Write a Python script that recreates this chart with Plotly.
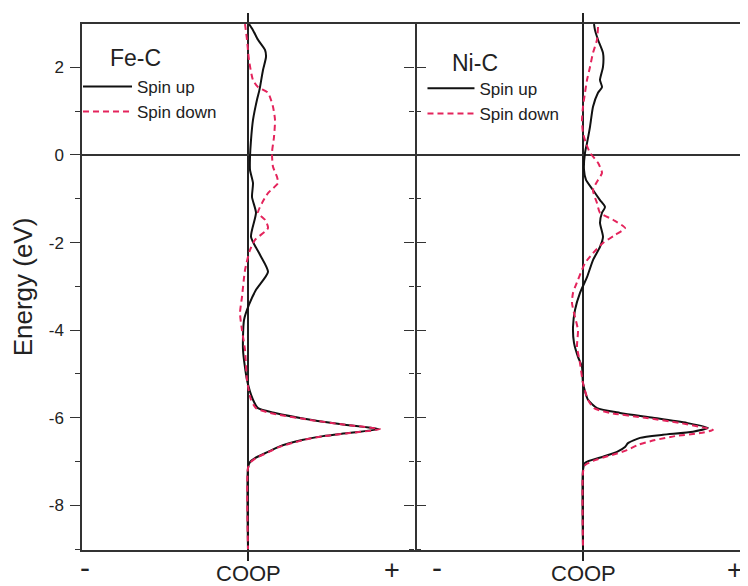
import plotly.graph_objects as go

# ---------------- data (energy in eV, COOP in arbitrary units) ----------------
fe_up_E = [2.99, 2.85, 2.63, 2.40, 2.24, 1.94, 1.55, 1.44, 1.26, 0.80, 0.34, -0.05, -0.34, -0.64,
           -0.96, -1.32, -1.87, -2.28, -2.67, -3.08, -3.42, -3.77, -4.45, -5.14, -5.59, -5.78,
           -5.89, -6.05, -6.16, -6.26, -6.35, -6.42, -6.51, -6.67, -6.78, -6.92, -7.01, -7.15, -9.0]
fe_up_C = [0.01, 0.05, 0.10, 0.17, 0.18, 0.15, 0.12, 0.11, 0.09, 0.05, 0.03, 0.02, 0.02, 0.05,
           0.04, 0.08, 0.03, 0.12, 0.20, 0.08, 0.01, -0.04, -0.05, -0.01, 0.05, 0.10,
           0.27, 0.64, 0.97, 1.31, 1.00, 0.75, 0.54, 0.30, 0.20, 0.07, 0.02, 0.0, 0.0]

fe_dn_E = [2.99, 2.63, 2.17, 1.71, 1.55, 1.42, 1.10, 0.80, 0.41, 0.05, -0.27, -0.50, -0.64, -0.87,
           -1.10, -1.32, -1.48, -1.67, -1.94, -2.17, -2.63, -3.24, -3.61, -4.00, -4.45, -5.14,
           -5.59, -5.78, -5.89, -6.05, -6.16, -6.26, -6.35, -6.42, -6.51, -6.67, -6.78, -6.92,
           -7.01, -7.15, -9.0]
fe_dn_C = [-0.03, -0.01, 0.01, 0.05, 0.10, 0.20, 0.25, 0.27, 0.26, 0.24, 0.25, 0.29, 0.30, 0.20,
           0.14, 0.10, 0.17, 0.20, 0.07, 0.02, -0.03, -0.06, -0.08, -0.06, -0.03, -0.01,
           0.03, 0.08, 0.22, 0.62, 0.97, 1.32, 1.02, 0.76, 0.55, 0.31, 0.21, 0.08,
           0.03, 0.0, 0.0]

ni_up_E = [2.99, 2.85, 2.63, 2.33, 2.01, 1.71, 1.55, 1.42, 1.10, 0.64, 0.27, 0.05, -0.34, -0.57,
           -0.80, -1.03, -1.19, -1.32, -1.55, -1.87, -2.10, -2.40, -2.79, -3.15, -3.54, -3.93,
           -4.29, -4.61, -4.84, -5.21, -5.59, -5.78, -5.89, -6.00, -6.12, -6.23, -6.32, -6.39,
           -6.46, -6.58, -6.67, -6.78, -6.89, -7.03, -7.19, -9.0]
ni_up_C = [0.11, 0.12, 0.15, 0.20, 0.20, 0.17, 0.19, 0.15, 0.10, 0.07, 0.04, 0.02, 0.01, 0.03,
           0.10, 0.17, 0.22, 0.19, 0.17, 0.20, 0.17, 0.10, 0.04, -0.03, -0.08, -0.10,
           -0.09, -0.05, -0.01, 0.0, 0.05, 0.14, 0.37, 0.70, 1.04, 1.25, 1.10, 0.80,
           0.57, 0.45, 0.42, 0.34, 0.20, 0.02, 0.0, 0.0]

ni_dn_E = [2.92, 2.63, 2.33, 2.01, 1.71, 1.42, 1.10, 0.80, 0.50, 0.27, 0.05, -0.18, -0.41, -0.57,
           -0.80, -1.10, -1.32, -1.48, -1.67, -1.83, -2.01, -2.24, -2.47, -2.85, -3.15, -3.38,
           -3.70, -4.00, -4.38, -4.75, -5.21, -5.59, -5.78, -5.89, -6.00, -6.12, -6.23, -6.28,
           -6.35, -6.42, -6.51, -6.62, -6.74, -6.85, -6.96, -7.08, -7.24, -9.0]
ni_dn_C = [0.15, 0.14, 0.10, 0.07, 0.04, 0.02, 0.0, -0.01, 0.0, 0.03, 0.07, 0.15, 0.19, 0.15,
           0.10, 0.14, 0.17, 0.30, 0.42, 0.32, 0.20, 0.10, 0.02, -0.05, -0.10, -0.11,
           -0.08, -0.05, -0.06, -0.03, 0.0, 0.05, 0.11, 0.27, 0.62, 0.97, 1.22, 1.30,
           1.17, 0.92, 0.72, 0.55, 0.44, 0.29, 0.13, 0.02, 0.0, 0.0]

panel_titles = ["Fe-C", "Ni-C"]
series_names = ["Spin up", "Spin down"]
y_tickvals = [-8, -6, -4, -2, 0, 2]
y_ticktext = ["-8", "-6", "-4", "-2", "0", "2"]
x_label = "COOP"
x_sign_text = ["-", "+"]

BLACK = "#111111"
RED = "#e4245c"
AX = "#333333"
FONT = "Arial, Liberation Sans, sans-serif"

fig = go.Figure()

def add(E, C, name, color, dash, xa, ya, legend):
    fig.add_trace(go.Scatter(
        x=C, y=E, mode="lines", name=name, xaxis=xa, yaxis=ya, legend=legend,
        line=dict(color=color, width=2, dash=dash, shape="spline", smoothing=0.6),
    ))

add(fe_up_E, fe_up_C, series_names[0], BLACK, "solid", "x", "y", "legend")
add(fe_dn_E, fe_dn_C, series_names[1], RED, "6px,4px", "x", "y", "legend")
add(ni_up_E, ni_up_C, series_names[0], BLACK, "solid", "x2", "y2", "legend2")
add(ni_dn_E, ni_dn_C, series_names[1], RED, "6px,4px", "x2", "y2", "legend2")

xcommon = dict(
    tickmode="array", tickvals=[0], ticktext=[""], ticks="outside", ticklen=9,
    tickcolor="#222", tickwidth=1.5, showline=True, linecolor=AX, linewidth=1.5, mirror="ticks",
    showgrid=False, zeroline=True, zerolinecolor="#222", zerolinewidth=1.5, automargin=False,
)
ycommon = dict(
    range=[-9.02, 2.99], tickmode="array", tickvals=y_tickvals, ticktext=y_ticktext,
    ticks="outside", ticklen=10, tickcolor=AX, tickwidth=1.3,
    showgrid=False, zeroline=True, zerolinecolor=AX, zerolinewidth=1.5, automargin=False,
    minor=dict(dtick=1, tick0=1, ticks="outside", ticklen=5, tickcolor=AX, tickwidth=1.3),
)

# page body adds an 8 px offset; the figure is sized so the plot lands where the reference has it
fig.update_layout(
    width=740, height=578,
    margin=dict(l=74, r=1, t=16, b=36),
    plot_bgcolor="white", paper_bgcolor="white",
    font=dict(family=FONT, color="#222"),
    showlegend=True,
    xaxis=dict(domain=[0, 0.5], range=[-1.66, 1.665], **xcommon),
    xaxis2=dict(domain=[0.5, 1], range=[-1.685, 1.64], anchor="y2", **xcommon),
    yaxis=dict(showline=True, linecolor=AX, linewidth=1.5, mirror="ticks",
               showticklabels=True, ticklabelstandoff=3,
               tickfont=dict(size=17, color="#222", family=FONT),
               title=dict(text="Energy (eV)", font=dict(size=26, family=FONT, color="#222"),
                          standoff=18),
               **ycommon),
    yaxis2=dict(anchor="x2", matches="y", showline=False, showticklabels=False, **ycommon),
    legend=dict(x=-0.006, y=0.9145, xanchor="left", yanchor="top", itemwidth=49,
                bgcolor="rgba(0,0,0,0)", font=dict(size=17, family=FONT, color="#222"),
                tracegroupgap=0),
    legend2=dict(x=0.512, y=0.911, xanchor="left", yanchor="top", itemwidth=47,
                 bgcolor="rgba(0,0,0,0)", font=dict(size=17, family=FONT, color="#222"),
                 tracegroupgap=0),
    shapes=[dict(type="line", xref="paper", yref="paper", x0=1, x1=1, y0=0, y1=1,
                 line=dict(color="#d0d0d0", width=1))],
)

ann_font = dict(size=23, family=FONT, color="#222")
fig.add_annotation(text=panel_titles[0], xref="paper", yref="paper", x=0.0385, y=0.935,
                   xanchor="left", yanchor="middle", showarrow=False, font=ann_font)
fig.add_annotation(text=panel_titles[1], xref="paper", yref="paper", x=0.553, y=0.926,
                   xanchor="left", yanchor="middle", showarrow=False, font=ann_font)

lab_font = dict(size=22, family=FONT, color="#222")
minus_font = dict(size=30, family=FONT, color="#222")
plus_font = dict(size=27, family=FONT, color="#222")
for xr, xm, xp in [("x", -1.63, 1.44), ("x2", -1.46, 1.52)]:
    fig.add_annotation(text=x_label, xref=xr, yref="paper", x=0, y=-0.045, xanchor="center",
                       yanchor="middle", showarrow=False, font=lab_font)
    fig.add_annotation(text=x_sign_text[0], xref=xr, yref="paper", x=xm, y=-0.034,
                       xanchor="center", yanchor="middle", showarrow=False, font=minus_font)
    fig.add_annotation(text=x_sign_text[1], xref=xr, yref="paper", x=xp, y=-0.038,
                       xanchor="center", yanchor="middle", showarrow=False, font=plus_font,
                       borderpad=0)

fig.write_html("out.html")
